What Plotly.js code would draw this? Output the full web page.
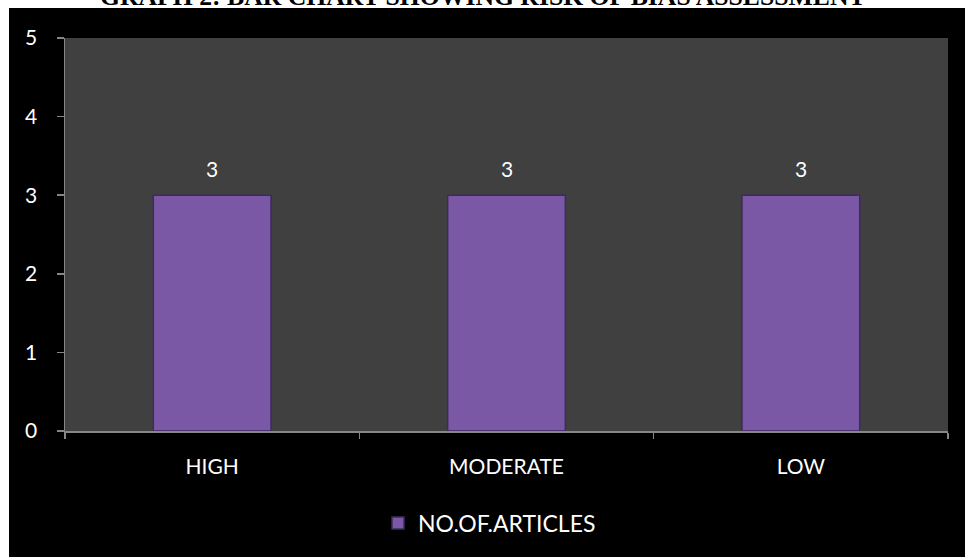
<!DOCTYPE html>
<html>
<head>
<meta charset="utf-8">
<script src="https://cdn.plot.ly/plotly-3.0.1.min.js"></script>
<style>
  html, body { margin: 0; padding: 0; background: #ffffff; }
  #chart { width: 965px; height: 557px; }
</style>
</head>
<body>
<div id="chart"></div>
<script>
// Risk of bias assessment: number of articles per risk level
const categories = ['HIGH', 'MODERATE', 'LOW'];
const articleCounts = [3, 3, 3];
const seriesName = 'NO.OF.ARTICLES';
const yTicks = [0, 1, 2, 3, 4, 5];
const chartTitle = 'GRAPH 2: BAR CHART SHOWING RISK OF BIAS ASSESSMENT';

const labelFont = { family: 'Lato, sans-serif', size: 21, color: '#ffffff' };

const bars = {
  type: 'bar',
  x: categories,
  y: articleCounts,
  name: seriesName,
  width: 0.4,
  marker: {
    color: '#7a58a6',
    line: { color: '#3e2a5e', width: 1.5 }
  },
  showlegend: true,
  hoverinfo: 'x+y'
};

// value labels sitting above each bar
const valueLabels = categories.map((c, i) => ({
  x: c,
  y: articleCounts[i],
  xref: 'x',
  yref: 'y',
  text: String(articleCounts[i]),
  showarrow: false,
  yshift: 27,
  font: labelFont
}));

// heading above the black chart area
const heading = {
  text: chartTitle,
  xref: 'paper',
  yref: 'paper',
  x: (483 - 65) / 883,
  y: (431 + 3.5) / 393,
  xanchor: 'center',
  yanchor: 'middle',
  showarrow: false,
  font: { family: 'Liberation Serif, Times New Roman, serif', size: 25.7, color: '#000000', weight: 'bold' }
};

const layout = {
  width: 965,
  height: 557,
  margin: { l: 65, r: 17, t: 38, b: 126, pad: 0 },
  paper_bgcolor: '#000000',
  plot_bgcolor: '#404040',
  font: { family: 'Lato, sans-serif', color: '#ffffff' },
  xaxis: {
    type: 'category',
    range: [-0.5, 2.5],
    showline: true,
    linecolor: '#868686',
    linewidth: 1.5,
    ticks: 'outside',
    tickson: 'boundaries',
    ticklen: 6,
    tickcolor: '#868686',
    tickwidth: 1.5,
    showgrid: false,
    zeroline: false,
    tickfont: labelFont,
    ticklabelstandoff: 16,
    fixedrange: true
  },
  yaxis: {
    range: [0, 5],
    tickmode: 'array',
    tickvals: yTicks,
    ticktext: yTicks.map(String),
    showline: true,
    linecolor: '#868686',
    linewidth: 1.5,
    ticks: 'outside',
    ticklen: 7,
    tickcolor: '#868686',
    tickwidth: 1.5,
    showgrid: false,
    zeroline: false,
    tickfont: labelFont,
    ticklabelstandoff: 15,
    fixedrange: true
  },
  legend: {
    orientation: 'h',
    x: (378 - 65) / 883,
    xanchor: 'left',
    y: -0.234,
    yanchor: 'middle',
    font: { family: 'Lato, sans-serif', size: 23, color: '#ffffff' },
    bgcolor: 'rgba(0,0,0,0)'
  },
  annotations: valueLabels.concat([heading]),
  shapes: [
    // white strip along the top edge
    { type: 'rect', xref: 'paper', yref: 'paper', layer: 'below',
      x0: -0.2, x1: 1.2, y0: (431 - 8) / 393, y1: 1.3,
      fillcolor: '#ffffff', line: { width: 0 } },
    // white strip along the left edge
    { type: 'rect', xref: 'paper', yref: 'paper', layer: 'below',
      x0: -0.2, x1: (9 - 65) / 883, y0: -0.5, y1: 1.3,
      fillcolor: '#ffffff', line: { width: 0 } }
  ],
  bargap: 0.6
};

Plotly.newPlot('chart', [bars], layout, { displayModeBar: false, staticPlot: true });
</script>
</body>
</html>
